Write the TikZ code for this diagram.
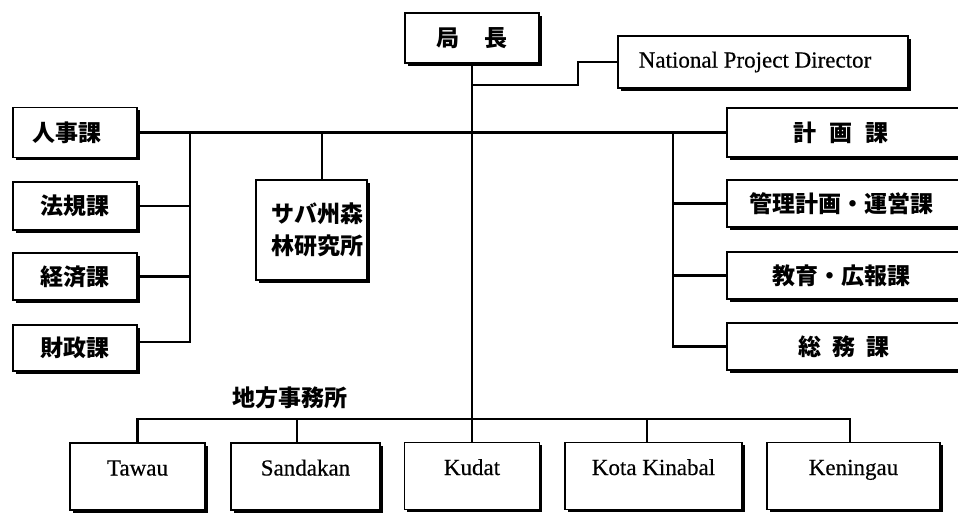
\documentclass[tikz,border=0pt]{standalone}
\usepackage{fontspec}
\setmainfont{Liberation Serif}[FakeBold=0.4]
\newfontfamily\jp{Noto Sans CJK JP}
\usetikzlibrary{shadows,calc}
\tikzset{
  box/.style={draw, line width=1.6pt, fill=white, inner sep=0pt,
    drop shadow={shadow xshift=2.6pt, shadow yshift=-2.6pt, fill=black, opacity=1}},
  jtext/.style={font=\jp\bfseries\fontsize{23}{32}\selectfont},
  etext/.style={font=\fontsize{23}{27}\selectfont},
  wire/.style={line width=2.2pt},
  tshift/.style={execute at begin node={\hspace*{#1}}},
  lowbox/.style={box, etext, minimum height=67pt, text height=15pt, text depth=17pt}
}
\begin{document}
\begin{tikzpicture}[x=1pt,y=-1pt]
\useasboundingbox (0,0) rectangle (958,514);
\clip (0,0) rectangle (958,514);

% top
\node[box, jtext, minimum width=134pt, minimum height=50pt] (kyoku) at (472,38) {局\hspace{25pt}長};
\node[box, etext, minimum width=290pt, minimum height=52pt, tshift=-16pt] (npd) at (763,62) {National Project Director};

% left column
\node[box, jtext, minimum width=124pt, minimum height=50pt, tshift=-16pt] (jinji) at (75,132.5) {人事課};
\node[box, jtext, minimum width=124pt, minimum height=48pt] (hoki) at (75,206) {法規課};
\node[box, jtext, minimum width=124pt, minimum height=47pt] (keizai) at (75,276.5) {経済課};
\node[box, jtext, minimum width=124pt, minimum height=46pt] (zaisei) at (75,348) {財政課};

% research institute
\node[box, jtext, minimum width=111pt, minimum height=100pt, align=center, tshift=12pt] (sabah) at (311.5,230) {サバ州森\\林研究所};

% right column
\node[box, jtext, minimum width=258pt, minimum height=49pt, tshift=-30pt] (keikaku) at (856,132.5) {計\hspace{13pt}画\hspace{13pt}課};
\node[box, jtext, minimum width=258pt, minimum height=47pt, tshift=-30pt] (kanri) at (856,203.5) {管理計画・運営課};
\node[box, jtext, minimum width=258pt, minimum height=47pt, tshift=-30pt] (kyoiku) at (856,275.5) {教育・広報課};
\node[box, jtext, minimum width=258pt, minimum height=47pt, tshift=-24pt] (somu) at (856,346.5) {総\hspace{11pt}務\hspace{11pt}課};

% regional offices
\node[jtext] (chiho) at (290,398) {地方事務所};
\node[lowbox, minimum width=135pt] (tawau) at (137.5,476.5) {Tawau};
\node[lowbox, minimum width=149pt] (sandakan) at (305.5,476.5) {Sandakan};
\node[lowbox, minimum width=135pt] (kudat) at (472,476) {Kudat};
\node[lowbox, minimum width=177pt] (kota) at (653.5,476) {Kota Kinabal};
\node[lowbox, minimum width=173pt] (keningau) at (853.5,476) {Keningau};

% junction coordinates
\coordinate (k85) at (472,85);
\coordinate (bend) at (578,62);
\coordinate (lt) at (190,132.5);
\coordinate (sx) at (322,132.5);
\coordinate (rt) at (673,132.5);
\coordinate (bl) at (138,419);
\coordinate (sd) at (297,419);
\coordinate (kt) at (647,419);
\coordinate (br) at (850,419);

% connectors
\draw[wire] (kyoku.south) -- (kudat.north);
\draw[wire] (k85) -| (bend) -- (npd.west);
\draw[wire] (jinji.east) -- (keikaku.west);
\draw[wire] (lt) |- ([yshift=6pt]zaisei.east);
\draw[wire] (hoki.east) -- (hoki.east -| lt);
\draw[wire] (keizai.east) -- (keizai.east -| lt);
\draw[wire] (sx) -- (sx |- sabah.north);
\draw[wire] (rt) |- (somu.west);
\draw[wire] (kanri.west -| rt) -- (kanri.west);
\draw[wire] (kyoiku.west -| rt) -- (kyoiku.west);
\draw[wire] (tawau.north) -- (tawau.north |- bl) -- (br) -- (br |- keningau.north);
\draw[wire] (sd) -- (sd |- sandakan.north);
\draw[wire] (kt) -- (kt |- kota.north);
\end{tikzpicture}
\end{document}
